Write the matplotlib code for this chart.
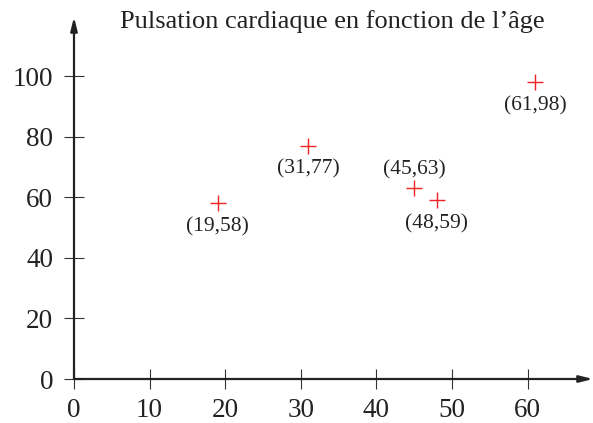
import matplotlib
matplotlib.use("Agg")
import matplotlib.pyplot as plt

plt.rcParams['font.family'] = ['Liberation Serif', 'DejaVu Serif']

ages = [19, 31, 45, 48, 61]
pulses = [58, 77, 63, 59, 98]
labels = ["(19,58)", "(31,77)", "(45,63)", "(48,59)", "(61,98)"]
label_above = [False, False, True, False, False]
xticks = [0, 10, 20, 30, 40, 50, 60]
yticks = [0, 20, 40, 60, 80, 100]
title = "Pulsation cardiaque en fonction de l\u2019âge"

W, H = 593, 423
fig = plt.figure(figsize=(W / 100, H / 100), dpi=100)
ax = fig.add_axes([74 / W, (H - 379) / H, (W - 74) / W, (379 - 17) / H])
xmax, ymax = 68.65, 119.5
ax.set_xlim(0, xmax)
ax.set_ylim(0, ymax)
for s in ax.spines.values():
    s.set_visible(False)

# axes avec fleches
arrow = dict(arrowstyle="-|>,head_length=0.8,head_width=0.2", lw=1.6,
             color="#222222", shrinkA=0, shrinkB=0, mutation_scale=10)
ax.annotate("", xy=(xmax, 0), xytext=(0, 0), annotation_clip=False,
            arrowprops=arrow)
ax.annotate("", xy=(0, ymax), xytext=(0, 0), annotation_clip=False,
            arrowprops=arrow)

ax.set_xticks(xticks)
ax.set_yticks(yticks)
ax.tick_params(direction='inout', length=14, width=0.8, color="#333333",
               labelsize=19.5, labelcolor="#222222")
ax.tick_params(axis='x', pad=7)
ax.tick_params(axis='y', pad=8)

ax.plot(ages, pulses, '+', color='#ee2222', markersize=11, markeredgewidth=1.0,
        clip_on=False)
for x, y, t, up in zip(ages, pulses, labels, label_above):
    dy = 13 if up else -17
    ax.annotate(t, (x, y), xytext=(0, dy), textcoords='offset points',
                ha='center', va='center', fontsize=15.5, color="#222222")

fig.text(332 / W, 1 - 22 / H, title, ha='center', va='center',
         fontsize=19, color="#222222")

fig.savefig("out.png", dpi=100)
